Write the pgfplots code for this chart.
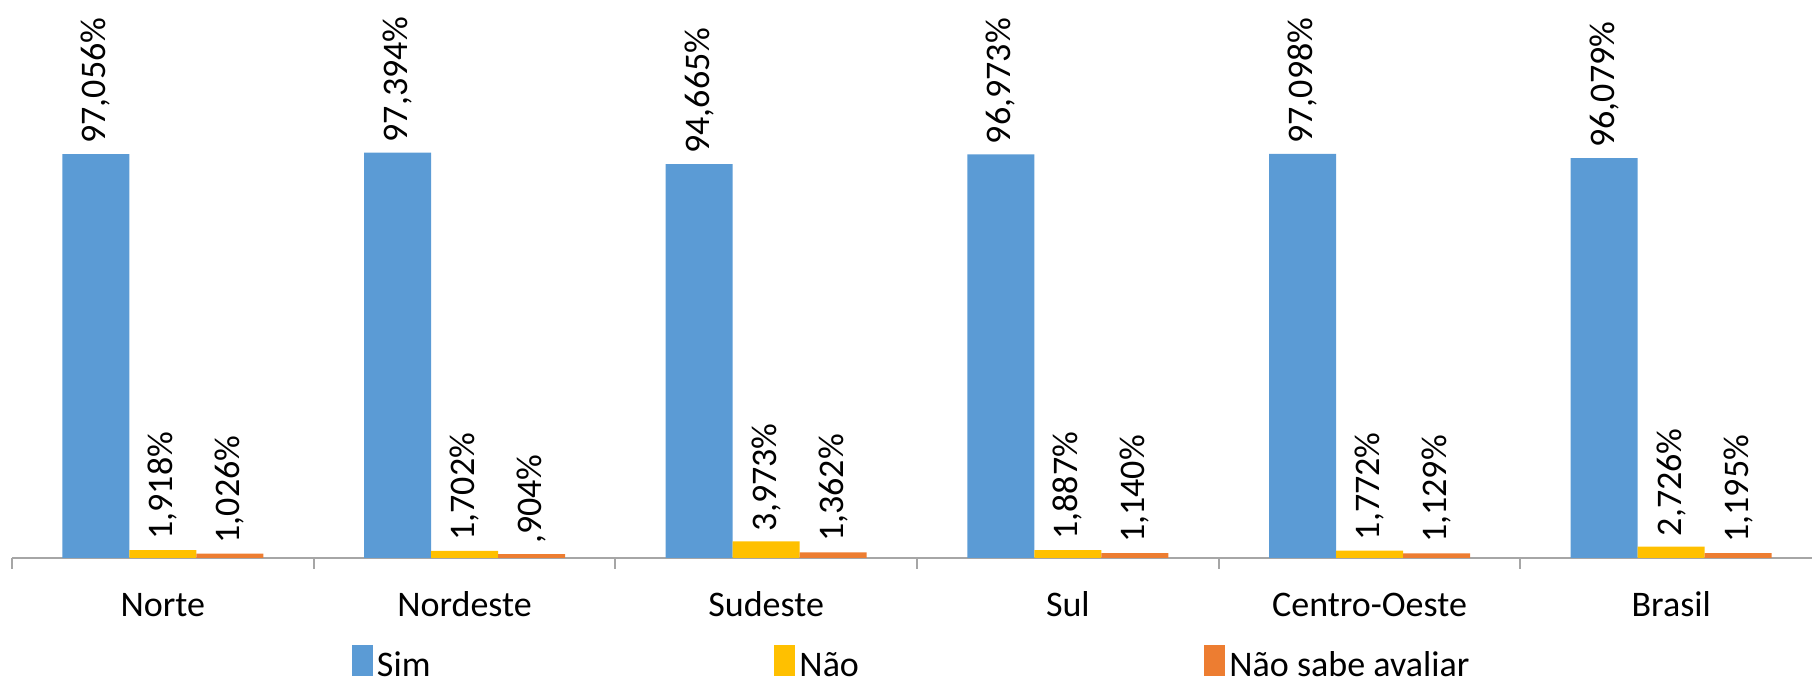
\documentclass[border=0pt]{standalone}
\usepackage{pgfplots}
\pgfplotsset{compat=1.18}
\usepackage{pgfplotstable}
\usepackage{fontspec}
\setmainfont{Carlito}
\definecolor{cSim}{HTML}{5B9BD5}
\definecolor{cNao}{HTML}{FFC000}
\definecolor{cNsa}{HTML}{ED7D31}
\definecolor{axgray}{HTML}{A6A6A6}
\pgfplotstableread{
x sim simlab nao naolab nsa nsalab
0 97.056 97,056 1.918 1,918 1.026 1,026
1 97.394 97,394 1.702 1,702 0.904 ,904
2 94.665 94,665 3.973 3,973 1.362 1,362
3 96.973 96,973 1.887 1,887 1.140 1,140
4 97.098 97,098 1.772 1,772 1.129 1,129
5 96.079 96,079 2.726 2,726 1.195 1,195
}\datatable
\begin{document}
\begin{tikzpicture}
\path[use as bounding box] (0,0) rectangle (906pt,342pt);
\begin{axis}[
  at={(6pt,63pt)}, anchor=south west,
  scale only axis, width=900.5pt, height=273pt,
  ybar=0pt, bar width=33.5pt,
  xmin=-0.5, xmax=5.47, ymin=0, ymax=131.2,
  axis y line=none, axis x line*=bottom,
  x axis line style={-, draw=axgray, line width=1pt},
  xtick={0,...,5},
  xticklabels={Norte,Nordeste,Sudeste,Sul,Centro-Oeste,Brasil},
  minor xtick={-0.5,0.5,1.5,2.5,3.5,4.5},
  major tick length=0pt, minor tick length=5.5pt, tick align=outside,
  minor tick style={draw=axgray, line width=1pt},
  xticklabel style={anchor=base, yshift=-29.5pt, font=\fontsize{18}{21}\selectfont},
  clip=false,
  nodes near coords={\pgfplotspointmeta\%},
  point meta=explicit symbolic,
  every node near coord/.append style={rotate=90, anchor=west, font=\fontsize{18}{21}\selectfont, inner sep=5pt, black},
  legend columns=3,
  legend style={at={(axis description cs:0.18878,-0.22344)}, anchor=south west,
    draw=none, fill=none, inner sep=0pt, outer sep=0pt, column sep=0pt,
    font=\fontsize{18}{21}\selectfont,
    nodes={inner sep=0pt, outer sep=0pt}},
  legend image code/.code={\path (0pt,0pt) rectangle (10.5pt,10.5pt);
    \fill[#1,overlay] (0pt,-5pt) rectangle (10.5pt,5.5pt);},
]
\addplot[fill=cSim, draw=none] table[x=x, y=sim, meta=simlab] {\datatable};
\addlegendentry{\hspace{2pt}\makebox[198.75pt][l]{Sim}}
\addplot[fill=cNao, draw=none] table[x=x, y=nao, meta=naolab] {\datatable};
\addlegendentry{\hspace{2pt}\makebox[202.5pt][l]{Não}}
\addplot[fill=cNsa, draw=none] table[x=x, y=nsa, meta=nsalab] {\datatable};
\addlegendentry{\hspace{2pt}Não sabe avaliar}
\end{axis}
\end{tikzpicture}
\end{document}
